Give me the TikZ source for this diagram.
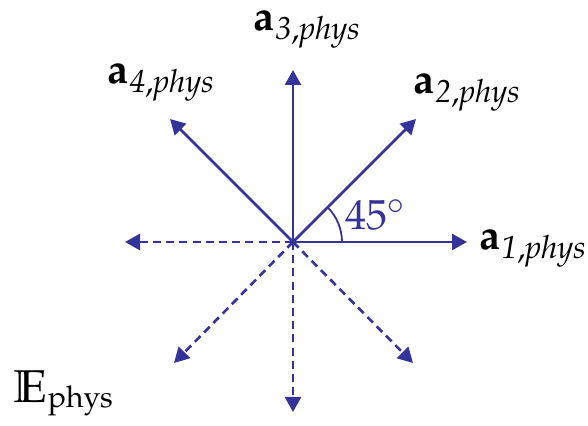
\documentclass[tikz,border=0pt]{standalone}
\usepackage{amssymb}
\usepackage{mathpazo}
\usetikzlibrary{arrows.meta}
\definecolor{vblue}{RGB}{51,51,153}
\begin{document}
\begin{tikzpicture}[x=0.5pt,y=-0.5pt,
  vec/.style={vblue,line width=1.3pt,-{Triangle[length=7.5pt,width=8pt]}},
  dvec/.style={vec,dash pattern=on 4pt off 2.6pt},
  lab/.style={inner sep=0pt,anchor=base west,font=\fontsize{21}{24}\selectfont}]
\useasboundingbox (0,0) rectangle (588,426);
\coordinate (o) at (293,242);
\coordinate (e1) at (467,242);
\coordinate (e2) at (416,119);
\coordinate (e3) at (293,70);
\coordinate (e4) at (170,119);
\coordinate (d1) at (125,242);
\coordinate (d2) at (174,363);
\coordinate (d3) at (293,412);
\coordinate (d4) at (413,363);
\draw[vec] (o) -- (e1);
\draw[vec] (o) -- (e2);
\draw[vec] (o) -- (e3);
\draw[vec] (o) -- (e4);
\draw[dvec] (o) -- (d1);
\draw[dvec] (o) -- (d2);
\draw[dvec] (o) -- (d3);
\draw[dvec] (o) -- (d4);
\draw[vblue,line width=0.9pt] (342,242) arc[start angle=0,end angle=-45,radius=49];
\node[lab,text=vblue] (ang) at (345,230) {$45^\circ$};
\node[lab] (l1) at (479,250) {$\mathbf{a}_{\mathit{1,phys}}$};
\node[lab] (l2) at (413,94) {$\mathbf{a}_{\mathit{2,phys}}$};
\node[lab] (l3) at (253,31) {$\mathbf{a}_{\mathit{3,phys}}$};
\node[lab] (l4) at (107,84) {$\mathbf{a}_{\mathit{4,phys}}$};
\node[lab] (E) at (13,403) {{\fontsize{23}{26}\selectfont$\mathbb{E}$}\raisebox{-2pt}{\fontsize{15}{18}\selectfont$\mathrm{phys}$}};
\end{tikzpicture}
\end{document}
